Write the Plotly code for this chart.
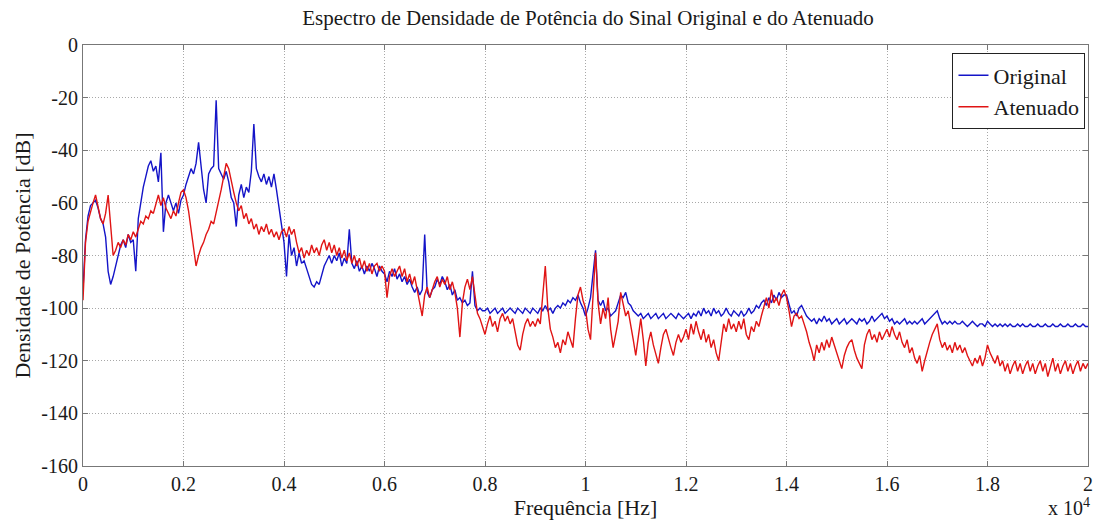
import plotly.graph_objects as go

# Frequency grid of the spectra (Hz), 50 Hz spacing
freq_hz = list(range(0, 20001, 50))

# PSD of the original signal (dB), 20 bins per row (1 kHz per row)
psd_original = [
    -93, -74, -65, -61, -60, -59, -62, -66, -68, -73, -86, -91, -88, -84, -80, -76, -74, -77, -72, -75,
    -74, -86, -66, -60, -54, -50, -46, -44, -48, -46, -52, -41, -71, -60, -57, -60, -63, -60, -64, -59,
    -57, -53, -50, -47, -49, -45, -37, -47, -55, -60, -49, -47, -46, -21, -47, -49, -51, -48, -52, -58,
    -60, -69, -57, -53, -58, -54, -56, -48, -30, -47, -50, -52, -49, -53, -50, -54, -49, -55, -62, -68,
    -75, -88, -72, -80, -77, -84, -79, -83, -82, -85, -88, -91, -92, -90, -91, -87, -84, -82, -80, -83,
    -80, -82, -79, -84, -81, -83, -70, -83, -85, -82, -86, -84, -87, -84, -86, -83, -85, -88, -84, -86,
    -87, -90, -86, -88, -85, -89, -87, -90, -88, -91, -89, -92, -94, -92, -95, -93, -72, -94, -96, -93,
    -92, -89, -91, -88, -90, -93, -91, -95, -93, -97, -96, -98, -97, -99, -98, -86, -99, -101, -100, -101,
    -101, -100, -102, -101, -100, -102, -101, -100, -102, -101, -100, -101, -102, -100, -101, -102, -100, -101, -102, -100,
    -101, -102, -100, -101, -99, -101, -100, -102, -100, -99, -100, -98, -99, -97, -98, -96, -97, -95, -98, -100,
    -103, -100, -96, -88, -78, -97, -99, -97, -101, -100, -103, -102, -101, -98, -95, -96, -94, -98, -99, -101,
    -102, -103, -102, -104, -103, -102, -104, -103, -102, -104, -103, -102, -104, -103, -102, -103, -104, -102, -103, -104,
    -103, -102, -104, -102, -103, -101, -103, -100, -102, -101, -103, -100, -102, -101, -103, -102, -100, -102, -103, -101,
    -102, -103, -101, -103, -102, -100, -102, -101, -99, -100, -98, -97, -99, -96, -98, -95, -97, -94, -96, -95,
    -95, -99, -102, -101, -103, -100, -99, -101, -103, -104, -105, -104, -106, -104, -105, -103, -105, -104, -106, -105,
    -104, -106, -105, -104, -106, -105, -104, -105, -106, -104, -105, -104, -106, -105, -103, -105, -104, -103, -102, -104,
    -103, -105, -104, -106, -105, -106, -105, -104, -106, -105, -106, -105, -106, -105, -104, -106, -105, -104, -103, -102,
    -101, -104, -106, -105, -106, -105, -106, -105, -106, -106, -105, -106, -107, -106, -105, -106, -107, -106, -106, -107,
    -105, -106, -107, -106, -107, -106, -107, -106, -107, -106, -107, -107, -106, -107, -106, -107, -107, -106, -107, -107,
    -106, -107, -107, -106, -107, -107, -106, -107, -107, -106, -107, -107, -106, -107, -107, -106, -107, -107, -106, -107,
    -107,
]

# PSD of the attenuated signal (dB)
psd_atenuado = [
    -97, -75, -67, -63, -60, -57, -62, -66, -68, -64, -57, -68, -80, -78, -75, -77, -74, -76, -72, -74,
    -71, -73, -70, -67, -68, -65, -66, -63, -64, -60, -57, -61, -58, -62, -64, -66, -63, -65, -60, -56,
    -55, -58, -63, -70, -78, -84, -80, -77, -75, -72, -70, -67, -68, -64, -60, -55, -50, -45, -47, -52,
    -56, -60, -63, -61, -66, -64, -68, -66, -70, -68, -72, -69, -71, -68, -72, -70, -73, -71, -74, -71,
    -70, -73, -69, -72, -70, -75, -79, -77, -81, -78, -80, -76, -79, -77, -80, -76, -74, -78, -75, -79,
    -76, -80, -77, -81, -78, -82, -79, -83, -80, -84, -81, -85, -82, -86, -83, -87, -84, -83, -86, -84,
    -86, -96, -88, -85, -88, -86, -84, -88, -85, -90, -87, -91, -88, -93, -98, -103, -95, -92, -96, -93,
    -90, -88, -92, -89, -91, -88, -93, -90, -94, -100, -111, -98, -92, -89, -93, -88, -95, -102, -104, -107,
    -110, -106, -103, -107, -105, -109, -104, -102, -105, -103, -106, -104, -109, -114, -116, -110, -106, -104, -107, -105,
    -107, -104, -106, -95, -84, -100, -108, -111, -115, -113, -117, -112, -114, -109, -112, -115, -104, -95, -92, -97,
    -100, -108, -112, -95, -79, -98, -106, -100, -104, -96, -108, -115, -110, -105, -94, -99, -103, -101, -106, -112,
    -118, -110, -104, -112, -122, -113, -109, -114, -118, -121, -115, -110, -108, -112, -115, -118, -113, -110, -113, -111,
    -108, -112, -106, -110, -105, -109, -112, -108, -113, -110, -115, -112, -117, -120, -112, -106, -109, -104, -108, -106,
    -109, -105, -108, -104, -110, -112, -107, -109, -105, -107, -103, -99, -96, -100, -93, -98, -96, -99, -95, -93,
    -96, -101, -107, -103, -102, -104, -103, -106, -109, -113, -116, -120, -114, -117, -113, -116, -112, -115, -111, -114,
    -117, -120, -123, -118, -115, -113, -112, -116, -119, -121, -123, -114, -110, -108, -112, -110, -113, -109, -112, -110,
    -108, -111, -107, -110, -112, -109, -113, -115, -112, -117, -115, -119, -121, -118, -124, -120, -116, -113, -110, -108,
    -106, -112, -115, -113, -116, -114, -117, -113, -116, -114, -117, -115, -118, -120, -122, -119, -121, -118, -122, -119,
    -114, -117, -119, -121, -118, -122, -120, -124, -121, -125, -122, -120, -124, -121, -125, -122, -120, -124, -121, -125,
    -122, -120, -124, -121, -126, -122, -119, -124, -121, -125, -122, -120, -124, -121, -125, -122, -120, -124, -121, -123,
    -121,
]

# Axis ticks
x_tick_vals = [0, 2000, 4000, 6000, 8000, 10000, 12000, 14000, 16000, 18000, 20000]
x_tick_text = ["0", "0.2", "0.4", "0.6", "0.8", "1", "1.2", "1.4", "1.6", "1.8", "2"]
y_tick_vals = [0, -20, -40, -60, -80, -100, -120, -140, -160]
y_tick_text = ["0", "-20", "-40", "-60", "-80", "-100", "-120", "-140", "-160"]

serif = "Liberation Serif, Times New Roman, serif"
ink = "#1a1a1a"

fig = go.Figure()
fig.add_trace(go.Scatter(
    x=freq_hz, y=psd_original, mode="lines", name="Original",
    line=dict(color="#1414c8", width=1.4),
))
fig.add_trace(go.Scatter(
    x=freq_hz, y=psd_atenuado, mode="lines", name="Atenuado",
    line=dict(color="#e01414", width=1.4),
))

axis_common = dict(
    showline=True, linecolor="#777777", linewidth=1, mirror="ticks",
    ticks="inside", ticklen=5, tickcolor="#777777",
    showgrid=True, gridcolor="#a8a8a8", griddash="1px,2px", gridwidth=1,
    zeroline=False, tickfont=dict(family=serif, size=20, color=ink),
)

fig.update_layout(
    width=1099, height=522,
    margin=dict(l=83, r=6, t=45, b=56),
    paper_bgcolor="white", plot_bgcolor="white",
    title=dict(
        text="Espectro de Densidade de Potência do Sinal Original e do Atenuado",
        x=(83 + 1093) / 2 / 1099, xanchor="center", y=0.966, yanchor="middle",
        font=dict(family=serif, size=21, color=ink),
    ),
    xaxis=dict(
        range=[0, 20000], tickvals=x_tick_vals, ticktext=x_tick_text,
        title=dict(text="Frequência [Hz]", font=dict(family=serif, size=22, color=ink), standoff=2),
        **axis_common,
    ),
    yaxis=dict(
        range=[-160, 0], tickvals=y_tick_vals, ticktext=y_tick_text,
        title=dict(text="Densidade de Potência [dB]", font=dict(family=serif, size=22, color=ink), standoff=4),
        **axis_common,
    ),
    legend=dict(
        x=0.9975, xanchor="right", y=0.98, yanchor="top",
        bgcolor="white", bordercolor="#222", borderwidth=1,
        font=dict(family=serif, size=22, color=ink),
        tracegroupgap=0, itemwidth=30,
    ),
    showlegend=True,
)

fig.add_annotation(
    text="x 10<sup>4</sup>", xref="paper", yref="paper",
    x=1.004, xanchor="right", y=(466 - 521) / 421, yanchor="bottom",
    showarrow=False, font=dict(family=serif, size=20, color=ink),
)

fig.write_html("out.html")
